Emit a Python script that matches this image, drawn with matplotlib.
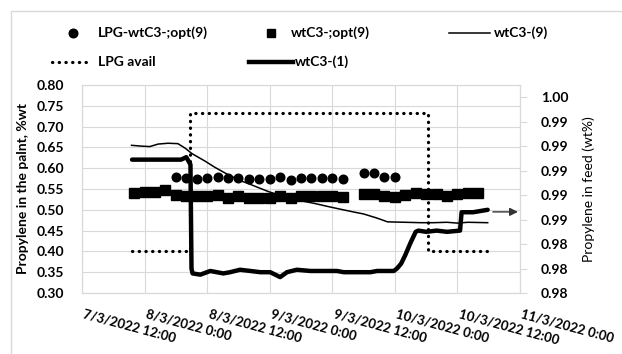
import numpy as np
import matplotlib
matplotlib.use("Agg")
import matplotlib.pyplot as plt
from matplotlib.lines import Line2D
from matplotlib.patches import Rectangle

plt.rcParams['font.family'] = ['Lato', 'DejaVu Sans']

# ======================
# DATA (hours since 7/3/2022 12:00)
# ======================
x_labels = ["7/3/2022 12:00", "8/3/2022 0:00", "8/3/2022 12:00", "9/3/2022 0:00",
            "9/3/2022 12:00", "10/3/2022 0:00", "10/3/2022 12:00", "11/3/2022 0:00"]
x_ticks = [0, 12, 24, 36, 48, 60, 72, 84]

# LPG-wtC3-;opt(9)  (circles, left axis)
opt_lpg_t = [18, 20, 22, 24, 26, 28, 30, 32, 34, 36, 38, 40, 42, 44, 46, 48, 50,
             54, 56, 58, 60]
opt_lpg_v = [0.578, 0.576, 0.574, 0.576, 0.580, 0.576, 0.577, 0.574, 0.573, 0.574,
             0.578, 0.572, 0.576, 0.576, 0.576, 0.576, 0.573, 0.588, 0.588, 0.578, 0.578]

# wtC3-;opt(9)  (squares, left axis)
opt_t = [10, 12, 14, 16, 18, 20, 22, 24, 26, 28, 30, 32, 34, 36, 38, 40, 42, 44, 46,
         48, 50, 54, 56, 58, 60, 62, 64, 66, 68, 70, 72, 74, 76]
opt_v = [0.540, 0.542, 0.542, 0.548, 0.536, 0.532, 0.532, 0.532, 0.536, 0.529, 0.533,
         0.529, 0.529, 0.529, 0.533, 0.528, 0.532, 0.533, 0.532, 0.532, 0.530, 0.538,
         0.538, 0.532, 0.530, 0.536, 0.541, 0.538, 0.538, 0.533, 0.538, 0.540, 0.541]

# wtC3-(9)  (thin line, left axis)
w9_t = [9.5, 11.5, 13, 14.6, 16.5, 18.4, 19.8, 21.1, 23.6, 25.5, 27.5, 30, 32.5, 35.5,
        38.5, 41.9, 44.7, 47.5, 50.1, 52, 54, 56.6, 58.6, 62, 65, 67.4, 70, 72, 74, 77.8]
w9_v = [0.655, 0.653, 0.652, 0.658, 0.660, 0.659, 0.648, 0.635, 0.617, 0.602, 0.588,
        0.572, 0.560, 0.545, 0.532, 0.522, 0.515, 0.507, 0.500, 0.495, 0.490, 0.480,
        0.471, 0.470, 0.469, 0.469, 0.470, 0.468, 0.470, 0.469]

# LPG avail  (dotted, left axis)
lpg_t = [9.6, 20.7, 20.7, 66.3, 66.3, 77.7]
lpg_v = [0.40, 0.40, 0.733, 0.733, 0.40, 0.40]

# wtC3-(1)  (thick line, right axis - feed)
w1_t = [9.6, 19.0, 20.0, 20.8, 21.0, 21.2, 22.7, 24.6, 27.1, 28.4, 30.3, 32.3, 34.2,
        36.1, 38.0, 39.3, 41.2, 43.8, 46.3, 48.9, 50.2, 52.7, 55.3, 56.6, 58.5, 59.8,
        60.4, 61.2, 62.0, 63.0, 64.0, 64.5, 66.0, 68.0, 70.0, 72.5, 72.8, 75.0, 77.8]
w1_v = [0.9909, 0.9909, 0.9911, 0.9905, 0.9820, 0.9816, 0.9815, 0.9818, 0.9816, 0.9817,
        0.9819, 0.9818, 0.9817, 0.9817, 0.9813, 0.9817, 0.9819, 0.9818, 0.9818, 0.9818,
        0.9817, 0.9817, 0.9817, 0.9818, 0.9818, 0.9818, 0.9820, 0.9824, 0.9831, 0.9841,
        0.9850, 0.9851, 0.9850, 0.9851, 0.9850, 0.9851, 0.9866, 0.9866, 0.9868]

right_ticks = [0.980, 0.982, 0.984, 0.986, 0.988, 0.990, 0.992, 0.994, 0.996]

# ======================
# PLOT
# ======================
W, H = 622, 354
fig = plt.figure(figsize=(W / 100, H / 100), dpi=100)
ax = fig.add_axes([82 / W, 1 - 293 / H, 438 / W, 208 / H])
ax2 = ax.twinx()

grid_c = "#d9d9d9"
fs = 10
dots = (0, (0.1, 2.0))

ax.plot(lpg_t, lpg_v, color="black", lw=2.3, linestyle=dots,
        dash_capstyle="round", zorder=3)
ax.plot(w9_t, w9_v, color="black", lw=1.1, zorder=3)
ax.plot(opt_lpg_t, opt_lpg_v, "o", color="black", ms=6.2, zorder=4)
ax.plot(opt_t, opt_v, "s", color="black", ms=6.5, zorder=4)
ax2.plot(w1_t, w1_v, color="black", lw=3.2, solid_capstyle="round",
         solid_joinstyle="round", zorder=3)

ax.annotate("", xy=(83.6, 0.495), xytext=(78.8, 0.495),
            arrowprops=dict(arrowstyle="-|>", color="#333333", lw=1,
                            mutation_scale=12, shrinkA=0, shrinkB=0),
            annotation_clip=False)

ax.set_xlim(0, 84)
ax.set_ylim(0.30, 0.80)
ax.set_xticks(x_ticks)
ax.set_xticklabels(x_labels, rotation=-15, ha="left", va="top",
                   fontsize=fs - 0.5, fontweight="bold")
ax.set_yticks(np.arange(0.30, 0.801, 0.05))
ax.set_yticklabels([f"{v:.2f}" for v in np.arange(0.30, 0.801, 0.05)],
                   fontsize=fs, fontweight="bold")
ax.tick_params(axis="both", length=0)
ax.tick_params(axis="y", pad=13)
ax.tick_params(axis="x", pad=11)
ax.grid(True, color=grid_c, lw=0.8)
ax.set_axisbelow(True)

ax2.set_ylim(0.980, 0.997)
ax2.set_yticks(right_ticks)
ax2.set_yticklabels([f"{v:.2f}" for v in right_ticks], fontsize=fs,
                    fontweight="bold")
ax2.tick_params(axis="y", length=5, color=grid_c, pad=10)

for a in (ax, ax2):
    for s in a.spines.values():
        s.set_color(grid_c)
        s.set_linewidth(0.8)

ax.set_ylabel("Propylene in the palnt, %wt", fontsize=fs, fontweight="bold",
              labelpad=5)
ax2.set_ylabel("Propylene in feed (wt%)", fontsize=fs, labelpad=10)

# chart border
fig.add_artist(Rectangle((10.5 / W, -0.1), 1.2, 1 - 10.5 / H + 0.1,
                         transform=fig.transFigure, fill=False,
                         edgecolor=grid_c, lw=1))

# legend (drawn manually, Excel-like layout)
def fx(px):
    return px / W

def fy(py):
    return 1 - py / H

def leg_text(x, y, s):
    fig.text(fx(x), fy(y), s, fontsize=fs, fontweight="bold", va="center", ha="left")

fig.add_artist(Line2D([fx(73)], [fy(33)], marker="o", ms=6.2, color="black", lw=0))
leg_text(98, 33, "LPG-wtC3-;opt(9)")
fig.add_artist(Line2D([fx(271)], [fy(33)], marker="s", ms=6.0, color="black", lw=0))
leg_text(291, 33, "wtC3-;opt(9)")
fig.add_artist(Line2D([fx(449), fx(490)], [fy(33), fy(33)], color="black", lw=1.1))
leg_text(494, 33, "wtC3-(9)")
fig.add_artist(Line2D([fx(52), fx(92)], [fy(62), fy(62)], color="black", lw=2.3,
                      linestyle=dots, dash_capstyle="round"))
leg_text(98, 62, "LPG avail")
fig.add_artist(Line2D([fx(249), fx(293)], [fy(62), fy(62)], color="black", lw=3.2))
leg_text(295, 62, "wtC3-(1)")

fig.savefig("out.png", dpi=100)
